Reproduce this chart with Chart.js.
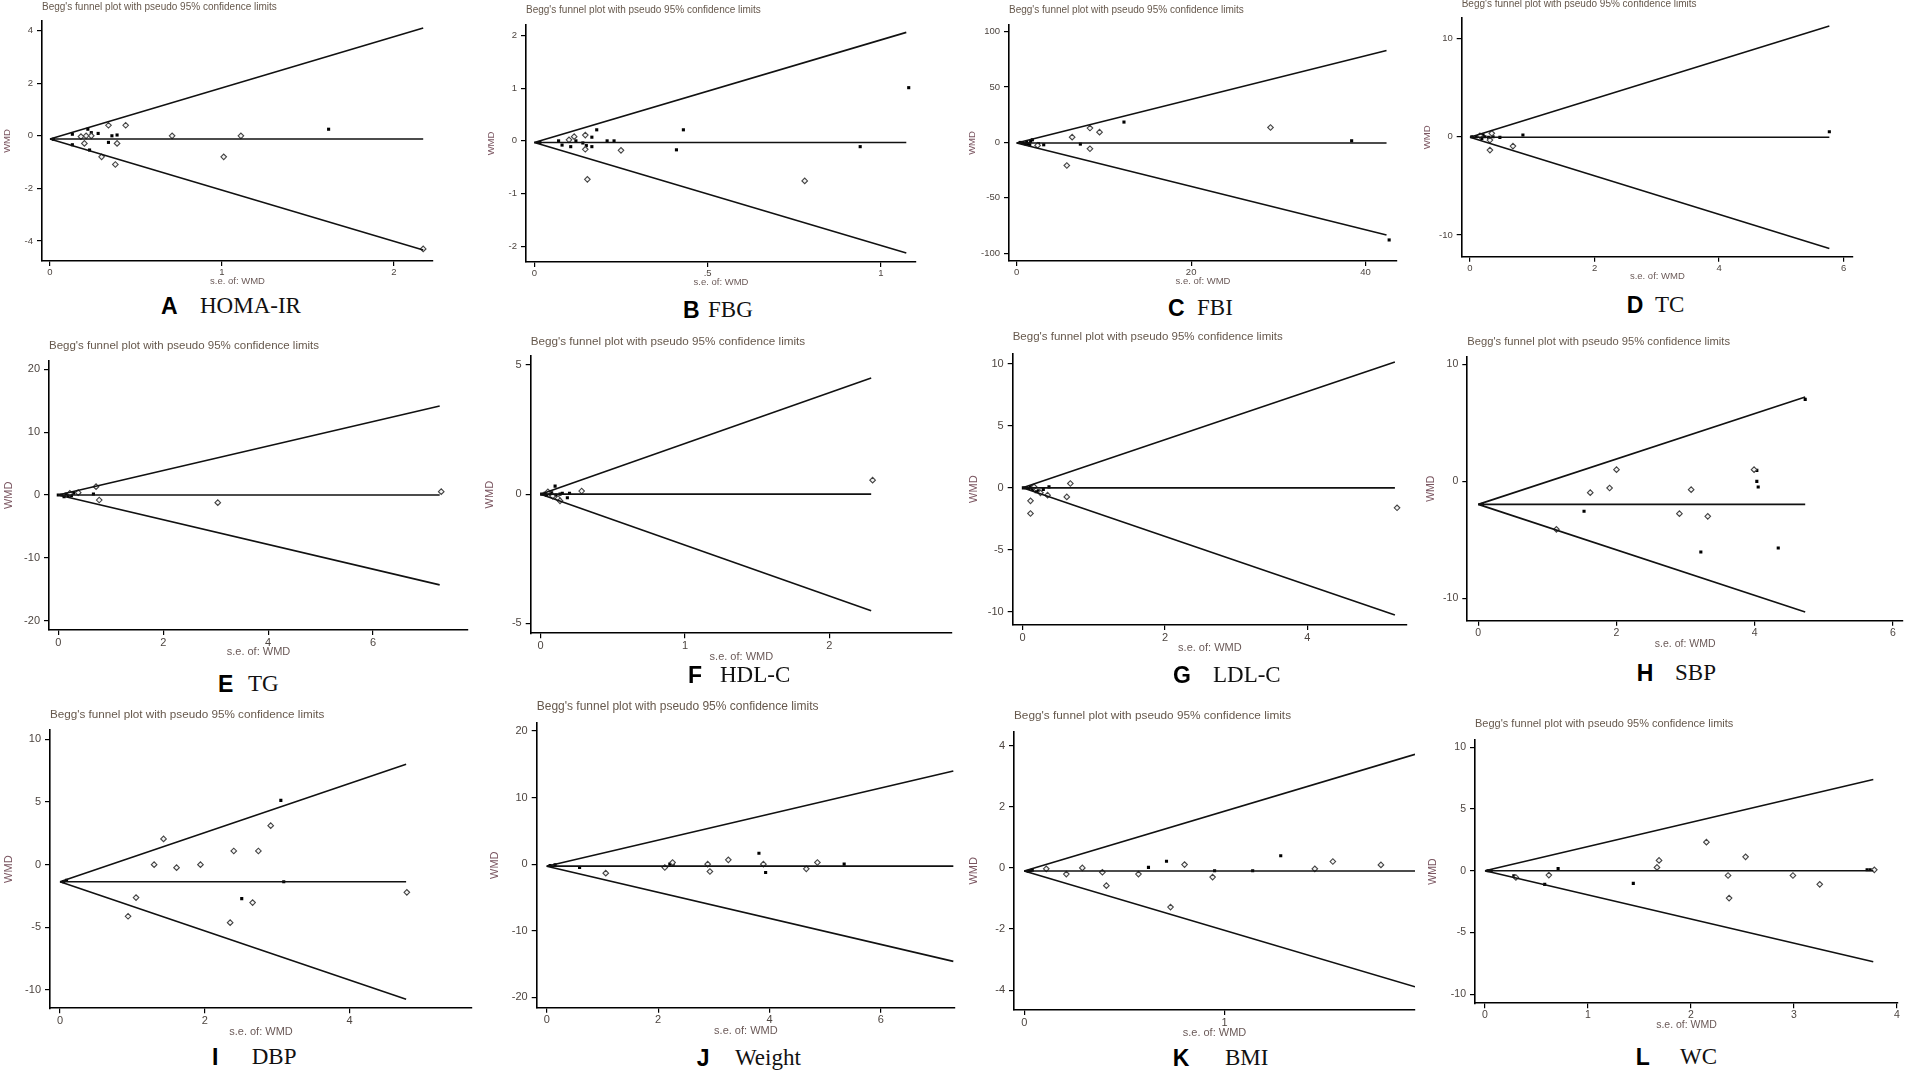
<!DOCTYPE html>
<html>
<head>
<meta charset="utf-8">
<title>Begg's funnel plots</title>
<script src="https://cdn.jsdelivr.net/npm/chart.js@4.4.1/dist/chart.umd.min.js"></script>
<style>
  html, body { margin: 0; padding: 0; background: #fff; }
  #figure { position: relative; width: 1907px; height: 1074px; overflow: hidden; }
  #figure canvas { position: absolute; }
  .tag { position: absolute; font-family: 'Liberation Sans', Arial, sans-serif; font-weight: bold; font-size: 23px; line-height: 26px; color: #000; white-space: nowrap; }
  .name { position: absolute; font-family: 'Liberation Serif', 'Times New Roman', serif; font-size: 23px; line-height: 26px; color: #111; white-space: nowrap; }
</style>
</head>
<body>
<div id="figure"></div>
<script>
// panel labels
const panelLetters = ['A', 'B', 'C', 'D', 'E', 'F', 'G', 'H', 'I', 'J', 'K', 'L'];
const outcomes = ['HOMA-IR', 'FBG', 'FBI', 'TC', 'TG', 'HDL-C', 'LDL-C', 'SBP', 'DBP', 'Weight', 'BMI', 'WC'];

// studies: [s.e. of WMD, WMD]
const hollowA = [[0.18,-0.03],[0.2,-0.29],[0.21,0],[0.24,0],[0.3,-0.8],[0.34,0.4],[0.38,-1.09],[0.39,-0.29],[0.44,0.4],[0.71,0],[1.01,-0.8],[1.11,0],[2.17,-4.3]];
const filledA = [[0.02,-0.13],[0.13,0.06],[0.13,-0.34],[0.22,0.25],[0.24,0.12],[0.23,-0.54],[0.28,0.09],[0.34,-0.25],[0.36,0],[0.39,0.03],[1.62,0.25]];
const hollowB = [[0.1,0.02],[0.115,0.08],[0.147,0.11],[0.147,-0.16],[0.153,-0.73],[0.25,-0.18],[0.78,-0.76]];
const filledB = [[0.016,-0.03],[0.07,0],[0.08,-0.08],[0.105,-0.11],[0.12,0],[0.14,-0.04],[0.15,-0.09],[0.166,0.07],[0.166,-0.11],[0.18,0.21],[0.21,0],[0.23,0],[0.41,-0.17],[0.43,0.21],[0.94,-0.11],[1.08,1.01]];
const hollowC = [[2.4,-2.7],[5.75,-20.8],[6.36,4.8],[8.4,13],[8.4,-5.7],[9.5,9.3],[29.1,13.5]];
const filledC = [[0.4,0],[0.7,-0.6],[1,-1.2],[1.15,0],[1.3,-1.2],[1.5,-2.1],[1.6,1],[1.8,2.4],[2.5,-1.2],[3.1,-2.1],[7.3,-1.5],[12.3,18.4],[38.4,1.5],[42.7,-88]];
const hollowD = [[0.16,0.1],[0.32,-0.34],[0.35,0.34],[0.32,-1.36],[0.69,-0.95]];
const filledD = [[0.03,0],[0.1,0],[0.19,-0.17],[0.21,0.17],[0.24,0],[0.3,-0.07],[0.37,0],[0.48,-0.07],[0.85,0.17],[5.77,0.5]];
const hollowE = [[0.22,0.27],[0.38,0.37],[0.72,1.33],[0.78,-0.8],[3.04,-1.22],[7.3,0.53]];
const filledE = [[0,0],[0.06,0],[0.11,-0.27],[0.15,0.16],[0.19,-0.1],[0.25,-0.1],[0.29,0.27],[0.67,0.16]];
const hollowF = [[0.05,0.09],[0.083,-0.08],[0.12,-0.17],[0.134,-0.26],[0.284,0.12],[2.3,0.54]];
const filledF = [[0.007,0],[0.03,0.03],[0.04,-0.04],[0.065,0],[0.076,0.05],[0.1,0.31],[0.106,-0.04],[0.134,0],[0.15,0.03],[0.185,-0.14],[0.2,0.03]];
const hollowG = [[0.16,0.08],[0.25,-0.4],[0.35,-0.59],[0.11,-1.05],[0.11,-2.07],[0.62,-0.73],[0.67,0.35],[5.26,-1.61]];
const filledG = [[0.01,0],[0.06,0],[0.09,-0.05],[0.11,0.08],[0.14,-0.13],[0.19,-0.32],[0.22,-0.24],[0.29,-0.13],[0.37,0.08]];
const hollowH = [[1.13,-4.1],[1.62,-0.97],[1.9,-0.57],[2.0,1.0],[2.91,-2.76],[3.08,-0.71],[3.32,-2.99],[3.99,1.0]];
const filledH = [[0.06,-1.97],[1.53,-2.56],[3.22,-6.04],[4.03,0.94],[4.03,0],[4.05,-0.48],[4.34,-5.7],[4.73,7.0]];
const hollowI = [[0.94,-4.12],[1.05,-2.63],[1.3,0],[1.43,2.05],[1.61,-0.24],[1.94,0],[2.35,-4.63],[2.4,1.09],[2.66,-3.03],[2.74,1.09],[2.91,3.11],[4.79,-2.21]];
const filledI = [[0.05,-1.36],[0.09,-1.25],[2.51,-2.71],[3.05,5.13],[3.09,-1.36]];
const hollowJ = [[1.06,-1.35],[2.12,-0.5],[2.26,0.25],[2.89,0],[2.93,-1.1],[3.26,0.65],[3.89,0],[4.66,-0.7],[4.86,0.25]];
const filledJ = [[0.06,-0.2],[0.15,-0.1],[0.59,-0.5],[2.21,0],[2.27,0],[3.81,1.65],[3.93,-1.25],[5.34,0]];
const hollowK = [[0.11,-0.03],[0.21,-0.2],[0.29,0],[0.39,-0.14],[0.41,-0.58],[0.57,-0.2],[0.73,-1.28],[0.8,0.11],[0.94,-0.3],[1.45,-0.03],[1.54,0.21],[1.78,0.1]];
const filledK = [[0.02,-0.11],[0.03,-0.09],[0.04,-0.07],[0.62,0.02],[0.71,0.22],[0.95,-0.09],[1.14,-0.09],[1.28,0.4]];
const hollowL = [[0.3,-0.54],[0.62,-0.35],[1.67,0.27],[1.69,0.84],[2.15,2.32],[2.36,-0.38],[2.37,-2.21],[2.53,1.13],[2.99,-0.38],[3.25,-1.1],[3.78,0.08]];
const filledL = [[0.03,0],[0.06,0],[0.28,-0.4],[0.58,-1.1],[0.71,0.19],[1.44,-1.02],[3.71,0.08],[3.74,0.08]];

// pooled estimate and pseudo 95% limits at the largest s.e.
const pooled   = [-0.12, -0.03, -0.5, -0.05, 0, 0, 0, -1.97, -1.36, -0.3, -0.1, 0];
const seMax    = [2.17, 1.073, 42.4, 5.77, 7.27, 2.29, 5.23, 4.73, 4.78, 7.3, 1.95, 3.77];
const upperEnd = [4.1, 2.06, 83, 11.25, 14.16, 4.5, 10.16, 7.2, 8.0, 14.0, 3.72, 7.39];
const lowerEnd = [-4.34, -2.13, -83.5, -11.36, -14.3, -4.52, -10.27, -11.17, -10.74, -14.6, -3.89, -7.36];

// axes
const xTicks = [[0,1,2],[0,0.5,1],[0,20,40],[0,2,4,6],[0,2,4,6],[0,1,2],[0,2,4],[0,2,4,6],[0,2,4],[0,2,4,6],[0,1],[0,1,2,3,4]];
const xTickLabels = [['0','1','2'],['0','.5','1'],['0','20','40'],['0','2','4','6'],['0','2','4','6'],['0','1','2'],['0','2','4'],['0','2','4','6'],['0','2','4'],['0','2','4','6'],['0','1'],['0','1','2','3','4']];
const yTicks = [[-4,-2,0,2,4],[-2,-1,0,1,2],[-100,-50,0,50,100],[-10,0,10],[-20,-10,0,10,20],[-5,0,5],[-10,-5,0,5,10],[-10,0,10],[-10,-5,0,5,10],[-20,-10,0,10,20],[-4,-2,0,2,4],[-10,-5,0,5,10]];
const xMin = [-0.0465, -0.024, -0.88, -0.133, -0.177, -0.069, -0.14, -0.159, -0.138, -0.18, -0.051, -0.097];
const xMax = [2.227, 1.101, 43.6, 6.15, 7.81, 2.85, 5.40, 6.145, 5.69, 7.33, 1.95, 4.01];
const yMin = [-4.76, -2.30, -107, -12.2, -21.48, -5.39, -11.07, -11.91, -11.46, -21.56, -4.65, -10.73];
const yMax = [4.365, 2.20, 106, 12.07, 21.37, 5.35, 10.86, 10.65, 10.74, 21.25, 4.46, 10.59];

const hollow = [hollowA, hollowB, hollowC, hollowD, hollowE, hollowF, hollowG, hollowH, hollowI, hollowJ, hollowK, hollowL];
const filled = [filledA, filledB, filledC, filledD, filledE, filledF, filledG, filledH, filledI, filledJ, filledK, filledL];

// page geometry of each panel: axis left/top/bottom/right, title y, x-title y, y-title x, caption
const boxes = [
  {ax: 42,     at: 21,    ab: 261,    ar: 433,    ty: 7,     lx: 281,    wx: 8,      fs: 9.5, tfs: 10,   cx: 161,    nx: 200,  cy: 306},
  {ax: 526,    at: 25,    ab: 262,    ar: 916,    ty: 10,    lx: 282,    wx: 491.7,  fs: 9.5, tfs: 10,   cx: 683,    nx: 708,  cy: 310},
  {ax: 1009,   at: 25,    ab: 261,    ar: 1397,   ty: 10,    lx: 281,    wx: 973,    fs: 9.5, tfs: 10,   cx: 1168,   nx: 1197, cy: 308},
  {ax: 1461.7, at: 18,    ab: 256.7,  ar: 1852.7, ty: 4,     lx: 276,    wx: 1428,   fs: 9.5, tfs: 10,   cx: 1626.7, nx: 1655, cy: 305},
  {ax: 49,     at: 360.7, ab: 630,    ar: 467.7,  ty: 345.7, lx: 652,    wx: 8.3,    fs: 11,  tfs: 11.5, cx: 218,    nx: 248,  cy: 684},
  {ax: 530.7,  at: 356,   ab: 633.3,  ar: 951.7,  ty: 341.7, lx: 657.7,  wx: 490,    fs: 11,  tfs: 11.7, cx: 688,    nx: 720,  cy: 675},
  {ax: 1012.7, at: 353.3, ab: 625,    ar: 1406.7, ty: 336.7, lx: 648.3,  wx: 973.3,  fs: 11,  tfs: 11.5, cx: 1173,   nx: 1213, cy: 675},
  {ax: 1467.3, at: 356.7, ab: 620.7,  ar: 1902.7, ty: 341.7, lx: 643.3,  wx: 1431.7, fs: 10.5,tfs: 11.2, cx: 1636.7, nx: 1675, cy: 673.3},
  {ax: 50,     at: 730,   ab: 1008.3, ar: 471.7,  ty: 715,   lx: 1032.7, wx: 8.3,    fs: 11,  tfs: 11.7, cx: 212,    nx: 251.7,cy: 1056.7},
  {ax: 536.7,  at: 722.7, ab: 1007.7, ar: 955,    ty: 706,   lx: 1031.7, wx: 495,    fs: 11,  tfs: 12,   cx: 696.7,  nx: 735,  cy: 1058.3},
  {ax: 1014,   at: 731.7, ab: 1010,   ar: 1415,   ty: 716,   lx: 1033.3, wx: 973.3,  fs: 11,  tfs: 11.8, cx: 1172.7, nx: 1225, cy: 1058.3},
  {ax: 1475,   at: 740,   ab: 1003.3, ar: 1897.7, ty: 724,   lx: 1025,   wx: 1433.3, fs: 10.5,tfs: 11,   cx: 1635.7, nx: 1680, cy: 1056.7}
];

const titleText = "Begg's funnel plot with pseudo 95% confidence limits";
const sans = "'Liberation Sans', Arial, sans-serif";
const rightPad = 8;

document.addEventListener('DOMContentLoaded', function() {
    const fig = document.getElementById('figure');

    boxes.forEach(function(g, i) {
        const lh = g.fs * 1.2;
        const tlh = g.tfs * 1.2;
        const left = Math.round(g.wx - lh / 2);
        const top = Math.round(g.ty - tlh / 2);
        const w = Math.round(g.ar + rightPad - left);
        const h = Math.round(g.lx + lh / 2 - top);
        const yw = g.ax - left;
        const xh = top + h - g.ab;
        const pb = g.at - top - tlh;

        const canvas = document.createElement('canvas');
        canvas.width = w;
        canvas.height = h;
        canvas.style.left = left + 'px';
        canvas.style.top = top + 'px';
        canvas.style.width = w + 'px';
        canvas.style.height = h + 'px';
        fig.appendChild(canvas);

        const line = (y2) => ({
            data: [{x: 0, y: pooled[i]}, {x: seMax[i], y: y2}],
            showLine: true, borderColor: '#111', borderWidth: 1.6,
            pointRadius: 0, pointHoverRadius: 0
        });
        const tickFont = {family: sans, size: g.fs};

        new Chart(canvas, {
            type: 'scatter',
            data: {
                datasets: [
                    line(pooled[i]),
                    line(upperEnd[i]),
                    line(lowerEnd[i]),
                    {
                        data: hollow[i].map(p => ({x: p[0], y: p[1]})),
                        pointStyle: 'rectRot', pointRadius: 2.8,
                        backgroundColor: '#f4f4f4', borderColor: '#444', borderWidth: 1.1
                    },
                    {
                        data: filled[i].map(p => ({x: p[0], y: p[1]})),
                        pointStyle: 'rect', pointRadius: 2.2,
                        backgroundColor: '#000', borderColor: '#000', borderWidth: 0
                    }
                ]
            },
            options: {
                responsive: false,
                animation: false,
                events: [],
                layout: {padding: {left: 0, right: rightPad, top: 0, bottom: 0}},
                plugins: {
                    legend: {display: false},
                    tooltip: {enabled: false},
                    title: {
                        display: true,
                        text: titleText,
                        align: 'start',
                        fullSize: false,
                        color: '#66584c',
                        font: {family: sans, size: g.tfs, weight: 'normal'},
                        padding: {top: 0, bottom: pb}
                    }
                },
                scales: {
                    x: {
                        type: 'linear',
                        min: xMin[i],
                        max: xMax[i],
                        afterBuildTicks: s => { s.ticks = xTicks[i].map(v => ({value: v})); },
                        afterFit: s => { s.height = xh; },
                        grid: {drawOnChartArea: false, drawTicks: true, tickLength: 5, color: '#000', lineWidth: 1.2},
                        border: {display: true, color: '#000', width: 1.6},
                        ticks: {
                            autoSkip: false, maxRotation: 0, padding: 1,
                            color: '#4d4540', font: tickFont,
                            callback: (v, k) => xTickLabels[i][k]
                        },
                        title: {display: true, text: 's.e. of: WMD', color: '#6b5a58', font: tickFont, padding: 0}
                    },
                    y: {
                        type: 'linear',
                        min: yMin[i],
                        max: yMax[i],
                        afterBuildTicks: s => { s.ticks = yTicks[i].map(v => ({value: v})); },
                        afterFit: s => { s.width = yw; },
                        grid: {drawOnChartArea: false, drawTicks: true, tickLength: 5, color: '#000', lineWidth: 1.2},
                        border: {display: true, color: '#000', width: 1.6},
                        ticks: {
                            autoSkip: false, padding: 4,
                            color: '#4d4540', font: tickFont,
                            callback: (v, k) => String(yTicks[i][k])
                        },
                        title: {display: true, text: 'WMD', color: '#7a5560', font: tickFont, padding: 0}
                    }
                }
            }
        });

        const tag = document.createElement('div');
        tag.className = 'tag';
        tag.textContent = panelLetters[i];
        tag.style.left = g.cx + 'px';
        tag.style.top = (g.cy - 13) + 'px';
        fig.appendChild(tag);

        const name = document.createElement('div');
        name.className = 'name';
        name.textContent = outcomes[i];
        name.style.left = g.nx + 'px';
        name.style.top = (g.cy - 13) + 'px';
        fig.appendChild(name);
    });
});
</script>
</body>
</html>
